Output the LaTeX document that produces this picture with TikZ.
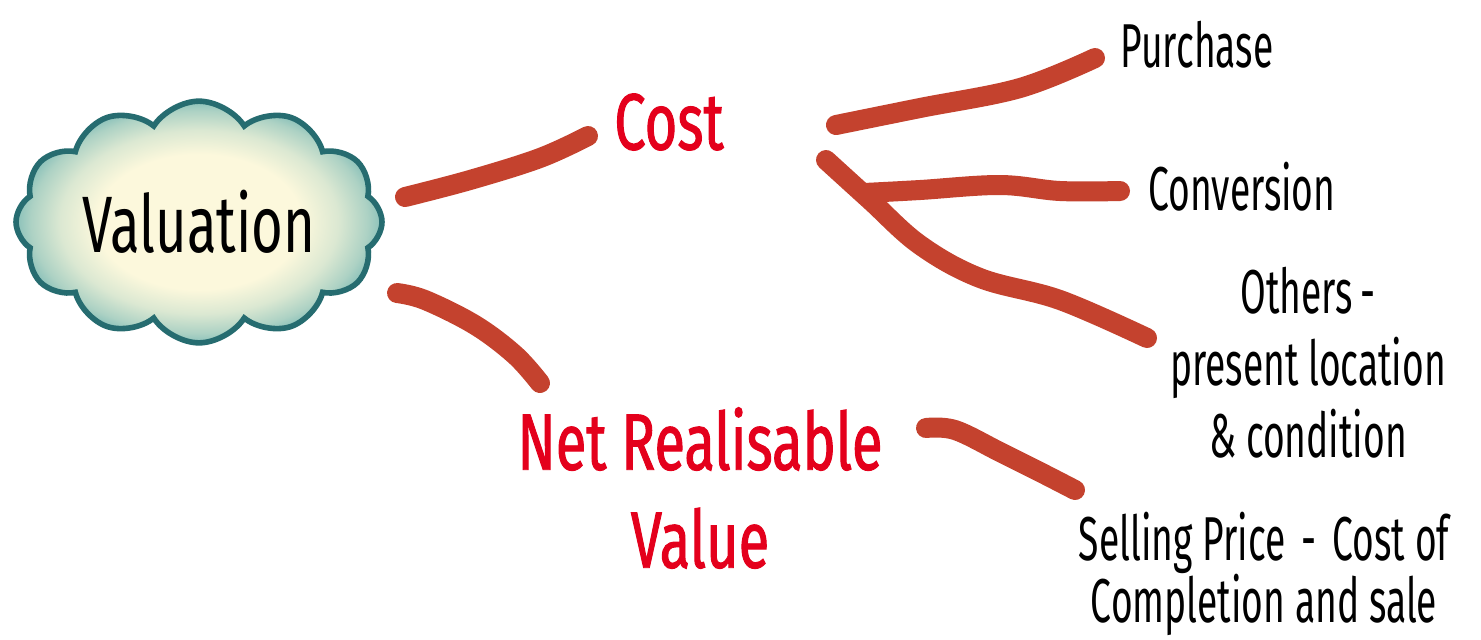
\documentclass[tikz,border=0pt]{standalone}
\usepackage{fontspec}
\newfontfamily\hand[FakeStretch=0.68]{Fira Sans}
\newfontfamily\handred[FakeStretch=0.7,FakeBold=1.2]{Fira Sans}
\newfontfamily\handthin[FakeStretch=0.6]{Fira Sans}
\usetikzlibrary{shapes.symbols}
\definecolor{strokered}{RGB}{196,66,46}
\definecolor{textred}{RGB}{228,0,28}
\definecolor{cloudedge}{RGB}{38,108,112}
\definecolor{cloudin}{RGB}{252,248,220}
\definecolor{cloudout}{RGB}{120,184,180}
\pgfdeclareradialshading{cloudshade}{\pgfpoint{0bp}{0bp}}{%
  color(0bp)=(cloudin); color(14bp)=(cloudin); color(19bp)=(cloudin!75!cloudout);
  color(23bp)=(cloudin!40!cloudout); color(26bp)=(cloudout); color(50bp)=(cloudout)}
\tikzset{
  brush/.style={line width=10pt, line cap=round, line join=round, strokered},
  redlabel/.style={text=textred, font=\handred\fontsize{40}{49}\selectfont, align=center, inner sep=0pt},
  blacklabel/.style={text=black, font=\handthin\fontsize{31}{36}\selectfont, align=center, inner sep=0pt},
  cloudnode/.style={cloud, cloud puffs=12, cloud puff arc=115, aspect=1.75,
    minimum width=183pt, minimum height=100pt, draw=cloudedge, line width=2.8pt,
    shading=cloudshade,
    font=\hand\fontsize{40}{44}\selectfont, text=black}
}
\begin{document}
\begin{tikzpicture}[x=0.5pt,y=-0.5pt]
\useasboundingbox (0,0) rectangle (1481,639);
\fill[white] (0,0) rectangle (1481,639);
% nodes
\node[cloudnode] (val) at (199,222) {Valuation};
\node[redlabel] (cost) at (669,122) {Cost};
\node[redlabel] (nrv) at (700,488) {Net Realisable\\Value};
\node[blacklabel] (pur) at (1197,45) {Purchase};
\node[blacklabel] (conv) at (1242,187) {Conversion};
\node[blacklabel] (oth) at (1308,363) {Others\hspace{4pt}-\\present location\\\& condition};
\node[blacklabel, font=\handthin\fontsize{31}{31}\selectfont] (sell) at (1264,574) {Selling Price\hspace{8pt}-\hspace{8pt}Cost of\\Completion and sale};
% stroke end points
\coordinate (vc1) at (405,197);
\coordinate (vc2) at (588,136);
\coordinate (vn1) at (397,293);
\coordinate (vn2) at (540,383);
\coordinate (cp1) at (836,125);
\coordinate (cp2) at (1095,58);
\coordinate (co1) at (826,160);
\coordinate (co2) at (1147,338);
\coordinate (cv1) at (864,193);
\coordinate (cv2) at (1120,191);
\coordinate (ns1) at (926,428);
\coordinate (ns2) at (1075,490);
% strokes
\draw[brush] plot[smooth, tension=0.6] coordinates {(vc1) (470,180) (540,158) (vc2)};
\draw[brush] plot[smooth, tension=0.6] coordinates {(vn1) (425,300) (475,325) (515,355) (vn2)};
\draw[brush] plot[smooth, tension=0.6] coordinates {(cp1) (920,108) (1020,88) (cp2)};
\draw[brush] plot[smooth, tension=0.6] coordinates {(co1) (870,200) (920,245) (980,278) (1060,300) (co2)};
\draw[brush] plot[smooth, tension=0.6] coordinates {(cv1) (920,190) (1000,185) (1060,191) (cv2)};
\draw[brush] plot[smooth, tension=0.6] coordinates {(ns1) (955,430) (1000,452) (1040,472) (ns2)};
\end{tikzpicture}
\end{document}
